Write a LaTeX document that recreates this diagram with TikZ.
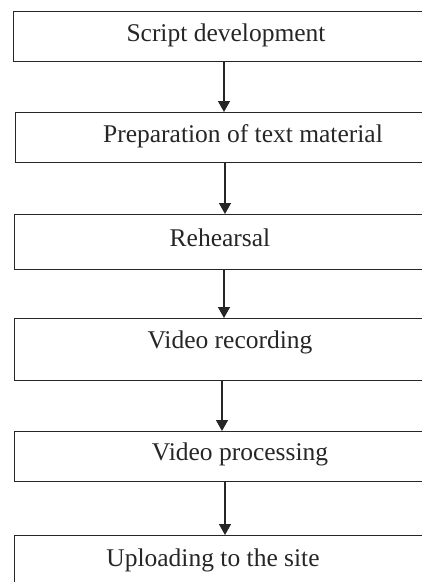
\documentclass[tikz,border=0pt]{standalone}
\usepackage{fontspec}
\setmainfont{Liberation Serif}
\usetikzlibrary{arrows.meta}
\begin{document}
\begin{tikzpicture}[x=1pt,y=-1pt,
  box/.style={draw=black!85, line width=1.4pt, rectangle, inner sep=0pt, anchor=north west, minimum width=430pt},
  lbl/.style={anchor=base, inner sep=0pt, font=\fontsize{25.5}{30}\selectfont, text=black!85},
  arr/.style={draw=black!85, line width=1.4pt, -{Triangle[length=11pt,width=12pt]}}]
\useasboundingbox (0,0) rectangle (422,582);
\clip (0,0) rectangle (422,582);
\node[box, minimum height=50pt] (b1) at (13,11) {};
\node[box, minimum height=50pt] (b2) at (15,112) {};
\node[box, minimum height=55pt] (b3) at (13.5,214) {};
\node[box, minimum height=62pt] (b4) at (14,318) {};
\node[box, minimum height=50pt] (b5) at (14,431) {};
\node[box, minimum height=65pt] (b6) at (14,535) {};
\node[lbl] (t1) at (226,41.7) {Script development};
\node[lbl] (t2) at (243,142.3) {Preparation of text material};
\node[lbl] (t3) at (220,246.5) {Rehearsal};
\node[lbl] (t4) at (230,348) {Video recording};
\node[lbl] (t5) at (240,460) {Video processing};
\node[lbl] (t6) at (213,566) {Uploading to the site};
\draw[arr] ([xshift=211pt]b1.south west) -- ([xshift=209pt]b2.north west);
\draw[arr] ([xshift=210pt]b2.south west) -- ([xshift=211.5pt]b3.north west);
\draw[arr] ([xshift=210.5pt]b3.south west) -- ([xshift=210pt]b4.north west);
\draw[arr] ([xshift=208pt]b4.south west) -- ([xshift=208pt]b5.north west);
\draw[arr] ([xshift=211pt]b5.south west) -- ([xshift=211pt]b6.north west);
\end{tikzpicture}
\end{document}
